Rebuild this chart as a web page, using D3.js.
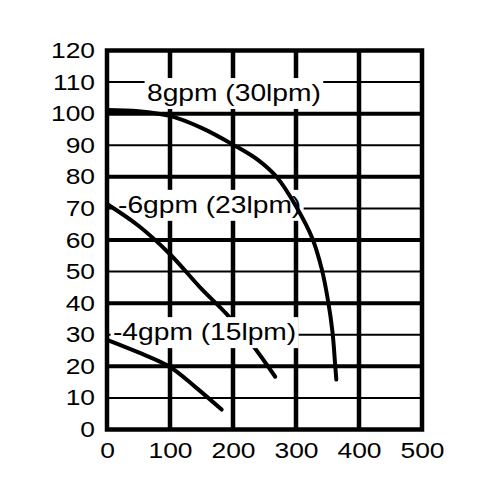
<!DOCTYPE html>
<html>
<head>
<meta charset="utf-8">
<script src="https://cdn.jsdelivr.net/npm/d3@7"></script>
<style>
  html, body { margin: 0; padding: 0; background: #fff; }
  svg { display: block; }
  text { font-family: "Liberation Sans", Arial, Helvetica, sans-serif; fill: #000; }
</style>
</head>
<body>
<svg id="chart" width="500" height="500"></svg>
<script>
// ---- data ----
const xTicks = [0, 100, 200, 300, 400, 500];
const yTicks = [0, 10, 20, 30, 40, 50, 60, 70, 80, 90, 100, 110, 120];
const majorY = [20, 40, 60, 80, 100];
const minorY = [10, 30, 50, 70, 90, 110];
const majorX = [100, 200, 300, 400];

const seriesNames = ["8gpm (30lpm)", "-6gpm (23lpm)", "-4gpm (15lpm)"];

const flow8 = [0, 50, 100, 150, 200, 240, 270, 300, 326, 341, 351, 358, 362, 364];
const head8 = [101.2, 100.8, 99.3, 95.5, 90.2, 85.3, 79.8, 70.7, 60.5, 50.7, 40.6, 30.7, 20.9, 15.8];

const flow6 = [0, 50, 100, 150, 190, 230, 267];
const head6 = [71.4, 64.5, 55.5, 44.5, 36.5, 27, 16.7];

const flow4 = [0, 50, 100, 140, 182];
const head4 = [28.4, 24.4, 19.8, 13.5, 6.3];

// ---- layout ----
const svg = d3.select("#chart");
const x = d3.scaleLinear().domain([0, 500]).range([107, 422]);
const y = d3.scaleLinear().domain([0, 120]).range([429.5, 50.5]);
const K = 1.2; // horizontal stretch of the original lettering

const zip = (a, b) => a.map((v, i) => [v, b[i]]);
const line = d3.line().x(d => x(d[0])).y(d => y(d[1])).curve(d3.curveCatmullRom.alpha(0.5));

// grid
const grid = svg.append("g");
grid.selectAll(".minor").data(minorY).join("line")
  .attr("x1", x(0)).attr("x2", x(500))
  .attr("y1", d => y(d)).attr("y2", d => y(d))
  .attr("stroke", "#000").attr("stroke-width", 2);
grid.selectAll(".major").data(majorY).join("line")
  .attr("x1", x(0)).attr("x2", x(500))
  .attr("y1", d => y(d)).attr("y2", d => y(d))
  .attr("stroke", "#000").attr("stroke-width", 4);
grid.selectAll(".vx").data(majorX).join("line")
  .attr("x1", d => x(d)).attr("x2", d => x(d))
  .attr("y1", y(0)).attr("y2", y(120))
  .attr("stroke", "#000").attr("stroke-width", 4.5);
grid.append("rect")
  .attr("x", x(0)).attr("y", y(120))
  .attr("width", x(500) - x(0)).attr("height", y(0) - y(120))
  .attr("fill", "none").attr("stroke", "#000").attr("stroke-width", 4.5);

// axes (tick labels only)
const xAxis = svg.append("g").attr("transform", `translate(0,${y(0)})`)
  .call(d3.axisBottom(x).tickValues(xTicks).tickSize(0).tickPadding(13).tickFormat(d3.format("d")));
const yAxis = svg.append("g").attr("transform", `translate(${x(0)},0)`)
  .call(d3.axisLeft(y).tickValues(yTicks).tickSize(0).tickPadding(10).tickFormat(d3.format("d")));
[xAxis, yAxis].forEach(a => {
  a.select(".domain").remove();
  a.selectAll("text")
    .attr("font-size", 22)
    .attr("font-family", '"Liberation Sans", Arial, sans-serif')
    .attr("fill", "#000")
    .attr("transform", `scale(${K},1)`);
});

// labels
const labelPos = [[63.5, 104], [17.5, 68.6], [9.5, 28.3]];
function addLabel(i) {
  const g = svg.append("g")
    .attr("transform", `translate(${x(labelPos[i][0])},${y(labelPos[i][1])}) scale(${K},1)`);
  const rect = g.append("rect").attr("fill", "#fff");
  const t = g.append("text").attr("x", 0).attr("y", 0)
    .attr("font-size", 23.5)
    .text(seriesNames[i]);
  const bb = t.node().getBBox();
  rect.attr("x", bb.x - 2).attr("width", bb.width + 4)
    .attr("y", -23).attr("height", 31);
}

const curveStyle = sel => sel.attr("fill", "none").attr("stroke", "#000")
  .attr("stroke-width", 4).attr("stroke-linecap", "round").attr("stroke-linejoin", "round");

addLabel(0);
addLabel(1);
svg.append("path").datum(zip(flow6, head6)).attr("d", line).call(curveStyle);
addLabel(2);
svg.append("path").datum(zip(flow4, head4)).attr("d", line).call(curveStyle);
svg.append("path").datum(zip(flow8, head8)).attr("d", line).call(curveStyle);
</script>
</body>
</html>
